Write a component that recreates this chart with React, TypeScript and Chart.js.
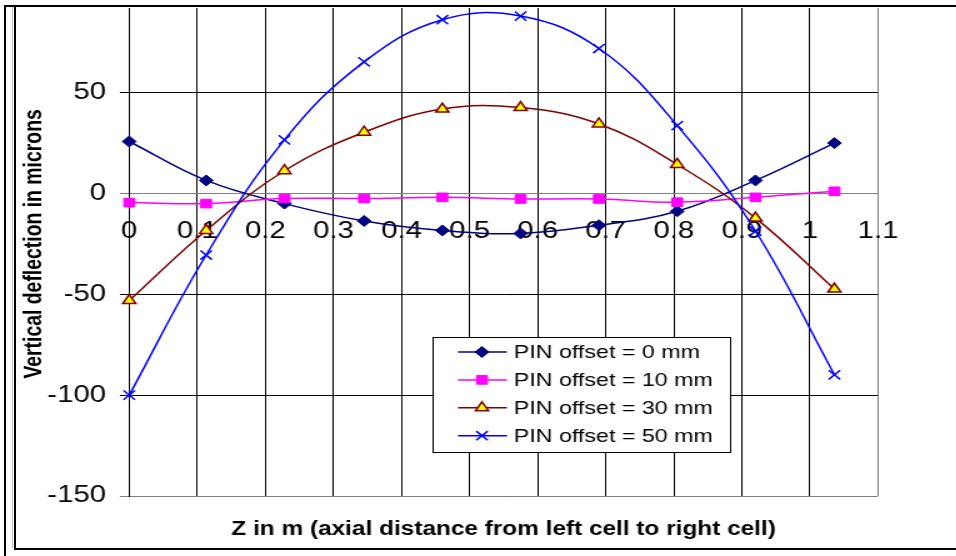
import React, { useEffect, useRef } from 'react';
import { Chart, registerables } from 'chart.js';

Chart.register(...registerables);

// ---- data ----
const zPositions = [0, 0.113, 0.228, 0.345, 0.46, 0.575, 0.69, 0.805, 0.92, 1.036];
const pin0 = [25.8, 6.5, -5.0, -13.6, -18.3, -19.8, -15.7, -8.8, 6.5, 25.0];
const pin10 = [-4.5, -5.0, -2.5, -2.5, -1.9, -2.7, -2.7, -4.3, -1.9, 1.1];
const pin30 = [-53.1, -18.3, 11.3, 30.4, 41.9, 42.6, 34.5, 14.4, -12.2, -47.4];
const pin50 = [-100, -30.5, 26.6, 65.3, 86.2, 88.0, 71.9, 33.7, -18.6, -89.9];
const seriesLabels = [
  'PIN offset = 0 mm',
  'PIN offset = 10 mm',
  'PIN offset = 30 mm',
  'PIN offset = 50 mm',
];
const xTickValues = [0, 0.1, 0.2, 0.3, 0.4, 0.5, 0.6, 0.7, 0.8, 0.9, 1, 1.1];
const yTickValues = [-150, -100, -50, 0, 50];
const xTitle = 'Z in m (axial distance from left cell to right cell)';
const yTitle = 'Vertical deflection in microns';

const FONT = '"Liberation Sans", Arial, Helvetica, sans-serif';
const STRETCH = 1.25;
const W = 956;
const H = 556;
const CW = Math.round(W / STRETCH);

type Style = {
  color: string;
  fill: string;
  stroke: string;
  point: string;
  radius: number;
  pbw: number;
};
const styles: Style[] = [
  { color: '#000080', fill: '#000080', stroke: '#000080', point: 'rectRot', radius: 5.5, pbw: 1 },
  { color: '#FF00FF', fill: '#FF00FF', stroke: '#FF00FF', point: 'rect', radius: 6.1, pbw: 1 },
  { color: '#800000', fill: '#FFFF00', stroke: '#800000', point: 'triangle', radius: 6, pbw: 1.5 },
  { color: '#0000FF', fill: '#0000FF', stroke: '#0000FF', point: 'crossRot', radius: 6.5, pbw: 1.5 },
];

function drawMarker(ctx: CanvasRenderingContext2D, s: Style, x: number, y: number) {
  const r = s.radius;
  ctx.save();
  ctx.lineWidth = s.pbw;
  ctx.strokeStyle = s.stroke;
  ctx.fillStyle = s.fill;
  ctx.beginPath();
  if (s.point === 'rectRot') {
    ctx.moveTo(x - r, y);
    ctx.lineTo(x, y - r);
    ctx.lineTo(x + r, y);
    ctx.lineTo(x, y + r);
    ctx.closePath();
    ctx.fill();
    ctx.stroke();
  } else if (s.point === 'rect') {
    const h = r * Math.SQRT1_2;
    ctx.rect(x - h, y - h, 2 * h, 2 * h);
    ctx.fill();
    ctx.stroke();
  } else if (s.point === 'triangle') {
    ctx.moveTo(x, y - r);
    ctx.lineTo(x + 0.866 * r, y + 0.5 * r);
    ctx.lineTo(x - 0.866 * r, y + 0.5 * r);
    ctx.closePath();
    ctx.fill();
    ctx.stroke();
  } else {
    const h = r * Math.SQRT1_2;
    ctx.moveTo(x - h, y - h);
    ctx.lineTo(x + h, y + h);
    ctx.moveTo(x - h, y + h);
    ctx.lineTo(x + h, y - h);
    ctx.stroke();
  }
  ctx.restore();
}

const boxLegend = {
  id: 'boxLegend',
  afterDraw(chart: any) {
    const ctx: CanvasRenderingContext2D = chart.ctx;
    const bx = 346.5;
    const by = 337.5;
    const bw = 238;
    const bh = 115;
    ctx.save();
    ctx.fillStyle = '#fff';
    ctx.fillRect(bx, by, bw, bh);
    ctx.strokeStyle = '#000';
    ctx.lineWidth = 1;
    ctx.strokeRect(bx, by, bw, bh);
    ctx.font = `18.6px ${FONT}`;
    ctx.textBaseline = 'middle';
    ctx.textAlign = 'left';
    seriesLabels.forEach((label, i) => {
      const s = styles[i];
      const y = 352 + i * 27.9;
      ctx.strokeStyle = s.color;
      ctx.lineWidth = 1.5;
      ctx.beginPath();
      ctx.moveTo(366.4, y);
      ctx.lineTo(405.6, y);
      ctx.stroke();
      drawMarker(ctx, s, 385.6, y);
      ctx.fillStyle = '#000';
      ctx.fillText(label, 411, y + 1);
    });
    ctx.restore();
  },
};

const fmt = (v: number) => String(Math.round(Number(v) * 10) / 10);

export default function App() {
  const ref = useRef<HTMLCanvasElement>(null);

  useEffect(() => {
    const canvas = ref.current!;
    Chart.defaults.font.family = FONT;
    const series = [pin0, pin10, pin30, pin50];
    const datasets = series.map((vals, i) => {
      const s = styles[i];
      return {
        label: seriesLabels[i],
        data: zPositions.map((x, j) => ({ x, y: vals[j] })),
        borderColor: s.color,
        backgroundColor: s.fill,
        borderWidth: 1.5,
        pointStyle: s.point,
        pointRadius: s.radius,
        pointHoverRadius: s.radius,
        pointBackgroundColor: s.fill,
        pointBorderColor: s.stroke,
        pointBorderWidth: s.pbw,
        tension: 0.4,
        fill: false,
        clip: false,
        order: 3 - i,
      };
    });

    const chart = new Chart(canvas, {
      type: 'line',
      data: { datasets: datasets as any },
      options: {
        animation: false,
        responsive: false,
        maintainAspectRatio: false,
        devicePixelRatio: 1,
        layout: { padding: { top: 6, left: 0, right: CW - 702.4, bottom: 0 } },
        plugins: {
          legend: { display: false },
          tooltip: { enabled: false },
        },
        scales: {
          x: {
            type: 'linear',
            min: 0,
            max: 1.1,
            position: { y: 0 } as any,
            afterBuildTicks: (s: any) => {
              s.ticks = xTickValues.map((v) => ({ value: v }));
            },
            afterFit: (s: any) => {
              s.paddingLeft = 0;
              s.paddingRight = 0;
              s.paddingTop = 0;
              s.paddingBottom = 0;
            },
            ticks: {
              font: { size: 23.5 },
              color: '#000',
              padding: 15.6,
              maxRotation: 0,
              minRotation: 0,
              autoSkip: false,
              callback: (v: any) => fmt(v),
            },
            grid: {
              color: (c: any) => (c.tick && Math.abs(c.tick.value - 1.1) < 1e-6 ? '#808080' : '#000'),
              lineWidth: 1,
              tickLength: 8,
            },
            border: { display: true, color: '#808080', width: 1 },
            title: { display: false },
          },
          xTitle: {
            type: 'linear',
            position: 'bottom',
            min: 0,
            max: 1.1,
            ticks: { display: false },
            grid: { display: false, drawTicks: false },
            border: { display: false },
            afterFit: (s: any) => {
              s.height = H - 496;
              s.paddingLeft = 0;
              s.paddingRight = 0;
            },
            title: {
              display: true,
              text: xTitle,
              color: '#000',
              font: { size: 19.5, weight: 'bold' },
              padding: { top: 0, bottom: 15 },
            },
          },
          y: {
            type: 'linear',
            position: 'left',
            min: -150,
            max: 92,
            afterBuildTicks: (s: any) => {
              s.ticks = yTickValues.map((v) => ({ value: v }));
            },
            afterFit: (s: any) => {
              s.width = 103.4;
              s.paddingTop = 0;
              s.paddingBottom = 0;
            },
            ticks: {
              font: { size: 23.5 },
              color: '#000',
              padding: 11,
              callback: (v: any) => String(v),
            },
            grid: {
              color: (c: any) =>
                c.tick && (c.tick.value === 0 || c.tick.value === -150) ? '#808080' : '#000',
              lineWidth: 1,
              tickLength: 7.5,
            },
            border: { display: true, color: '#000', width: 1 },
            title: {
              display: true,
              text: '   ' + yTitle,
              color: '#000',
              font: { size: 19.4, weight: 'bold' },
              padding: { top: 15.6, bottom: 0 },
            },
          },
        },
      } as any,
      plugins: [boxLegend],
    });
    return () => chart.destroy();
  }, []);

  const line = (l: number, t: number, w: number, h: number, c = '#000') => (
    <div style={{ position: 'absolute', left: l, top: t, width: w, height: h, background: c }} />
  );

  return (
    <div
      style={{
        position: 'absolute',
        left: 0,
        top: 0,
        width: W,
        height: H,
        overflow: 'hidden',
        background: '#fff',
      }}
    >
      <div
        style={{
          position: 'absolute',
          left: 0,
          top: 0,
          width: CW,
          height: H,
          transform: `scaleX(${STRETCH})`,
          transformOrigin: '0 0',
        }}
      >
        <canvas ref={ref} width={CW} height={H} style={{ display: 'block' }} />
      </div>
      {line(4, 5, 2, H - 5)}
      {line(4, 5, W - 4, 2)}
      {line(12, 7, 1, 541, '#c0c0c0')}
      {line(14, 6, 2, 544)}
      {line(14, 548, W - 14, 2)}
    </div>
  );
}
